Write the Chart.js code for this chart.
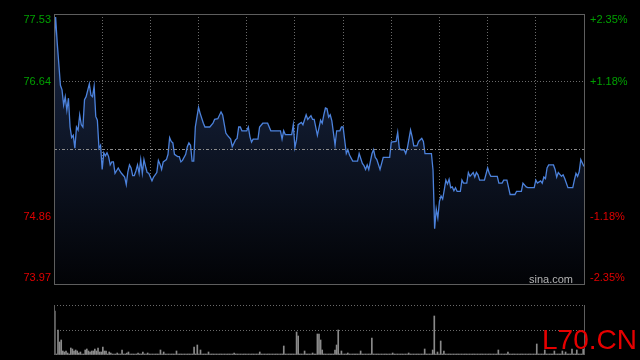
<!DOCTYPE html>
<html>
<head>
<meta charset="utf-8">
<script src="https://cdn.jsdelivr.net/npm/chart.js@4/dist/chart.umd.min.js"></script>
<style>
    html, body { margin: 0; padding: 0; background: #000; overflow: hidden; }
    #wrap { position: relative; width: 640px; height: 360px; }
    #priceChart { position: absolute; left: 0; top: 0; }
    #volChart { position: absolute; left: 0; top: 290px; }
    #mark { position: absolute; left: 542px; top: 326px; font: 28px "Liberation Sans", Arial, sans-serif; line-height: 28px; color: #e60000; }
</style>
</head>
<body>
<div id="wrap">
    <canvas id="priceChart" width="640" height="290"></canvas>
    <canvas id="volChart" width="640" height="70"></canvas>
    <div id="mark">L70.CN</div>
</div>
<script>
// --- Data (minutes since 9:30 open, HK session 330 min) ---
const prevClose = 75.75;
const priceTicks = [77.53, 76.64, 74.86, 73.97];
const pctLabels = ['+2.35%', '+1.18%', '-1.18%', '-2.35%'];
const gridMinutes = [0, 30, 60, 90, 120, 150, 180, 210, 240, 270, 300, 330];

const priceMinutes = [
    0, 1, 2, 4, 5, 6, 7, 8, 9, 10, 11, 12, 13, 14, 15, 16, 17, 18, 19, 20,
    22, 23, 24, 25, 26, 27, 28, 29, 30, 31, 32, 33, 34, 35, 36, 37, 38, 40, 41, 42,
    44, 45, 46, 47, 48, 49, 50, 51, 52, 53, 54, 55, 56, 57, 58, 59, 61, 62, 64, 65,
    66, 67, 68, 70, 71, 72, 73, 74, 75, 77, 78, 79, 80, 82, 83, 84, 85, 86, 87, 88,
    90, 91, 93, 94, 97, 99, 100, 102, 104, 105, 107, 108, 110, 111, 113, 114, 115, 116, 117, 120,
    121, 122, 123, 124, 127, 128, 130, 133, 135, 141, 142, 143, 144, 148, 149, 150, 151, 152, 154, 155,
    157, 158, 160, 161, 162, 164, 166, 167, 168, 169, 170, 171, 172, 173, 175, 176, 178, 179, 180, 182,
    183, 184, 186, 189, 190, 192, 193, 194, 195, 196, 198, 199, 200, 201, 203, 205, 209, 210, 213, 214,
    215, 216, 218, 219, 220, 222, 223, 224, 226, 227, 229, 230, 231, 235, 236, 237, 238, 239, 240, 241,
    242, 243, 244, 245, 246, 247, 248, 249, 250, 251, 253, 254, 255, 257, 258, 259, 261, 262, 263, 264,
    265, 268, 270, 271, 272, 276, 277, 279, 280, 282, 284, 287, 288, 291, 292, 294, 295, 299, 300, 301,
    303, 304, 305, 306, 307, 308, 311, 312, 313, 314, 316, 317, 318, 320, 323, 324, 325, 326, 327, 328,
    330
];
const priceValues = [
    77.14, 77.49, 77.15, 76.59, 76.53, 76.33, 76.44, 76.26, 76.42, 76.04, 75.90, 75.93, 75.76, 76.04, 76.00, 76.20, 76.07, 76.04, 76.40, 76.44,
    76.61, 76.46, 76.44, 76.58, 76.18, 76.13, 75.76, 75.80, 75.48, 75.70, 75.66, 75.70, 75.65, 75.54, 75.58, 75.58, 75.43, 75.50, 75.46, 75.43,
    75.38, 75.28, 75.45, 75.54, 75.50, 75.40, 75.40, 75.46, 75.54, 75.43, 75.61, 75.43, 75.61, 75.52, 75.44, 75.43, 75.33, 75.38, 75.44, 75.60,
    75.55, 75.48, 75.58, 75.61, 75.68, 75.90, 75.85, 75.83, 75.68, 75.65, 75.65, 75.58, 75.60, 75.68, 75.78, 75.83, 75.80, 75.59, 75.59, 76.04,
    76.30, 76.22, 76.09, 76.04, 76.04, 76.09, 76.14, 76.15, 76.24, 76.20, 75.96, 75.93, 75.88, 75.78, 75.87, 75.89, 76.04, 76.04, 75.99, 75.99,
    76.04, 75.91, 75.84, 75.88, 75.88, 76.04, 76.09, 76.09, 75.99, 75.99, 75.88, 75.99, 75.94, 75.94, 76.07, 75.77, 75.87, 76.07, 76.10, 76.07,
    76.20, 76.14, 76.19, 76.14, 76.14, 75.93, 76.13, 76.09, 76.20, 76.29, 76.28, 76.17, 76.20, 76.12, 75.80, 75.99, 75.99, 76.04, 76.04, 75.69,
    75.74, 75.67, 75.59, 75.59, 75.69, 75.56, 75.53, 75.48, 75.54, 75.48, 75.69, 75.74, 75.64, 75.61, 75.48, 75.64, 75.64, 75.84, 75.85, 75.97,
    75.76, 75.74, 75.74, 75.69, 75.76, 76.00, 75.91, 75.79, 75.79, 75.85, 75.89, 75.85, 75.69, 75.69, 75.47, 74.70, 74.96, 74.84, 75.06, 75.13,
    75.09, 75.21, 75.34, 75.29, 75.35, 75.24, 75.25, 75.20, 75.24, 75.19, 75.19, 75.34, 75.30, 75.30, 75.44, 75.39, 75.44, 75.38, 75.44, 75.41,
    75.34, 75.34, 75.50, 75.43, 75.39, 75.39, 75.30, 75.30, 75.34, 75.34, 75.15, 75.15, 75.19, 75.19, 75.30, 75.25, 75.24, 75.24, 75.34, 75.30,
    75.33, 75.30, 75.38, 75.36, 75.50, 75.54, 75.54, 75.48, 75.38, 75.44, 75.39, 75.41, 75.36, 75.24, 75.24, 75.34, 75.43, 75.39, 75.45, 75.61,
    75.52
];

// volume per minute (relative units, panel max = 50)
const volumes = [
    44, 1, 25, 13, 15, 4, 3, 4, 2, 1, 7, 6, 4, 5, 4, 2, 3, 1, 1, 5, 6, 4, 3, 4, 4, 6, 4, 7, 3, 3,
    8, 4, 4, 1, 3, 2, 1, 1, 1, 2, 1, 1, 5, 1, 1, 2, 3, 1, 1, 1, 1, 1, 2, 1, 1, 3, 1, 1, 2, 1,
    1, 1, 1, 1, 1, 1, 5, 1, 3, 1, 1, 1, 1, 1, 1, 1, 4, 1, 1, 1, 1, 1, 1, 1, 1, 1, 1, 8, 1, 10,
    1, 5, 1, 1, 1, 1, 3, 1, 1, 1, 1, 1, 1, 1, 1, 1, 1, 1, 1, 1, 1, 1, 2, 1, 1, 1, 1, 1, 1, 1,
    1, 1, 1, 1, 1, 1, 1, 1, 3, 1, 1, 1, 1, 1, 1, 1, 1, 1, 1, 1, 1, 1, 1, 9, 1, 1, 1, 1, 1, 1,
    1, 23, 19, 1, 1, 1, 4, 1, 1, 1, 1, 2, 1, 1, 21, 21, 15, 5, 1, 1, 1, 1, 1, 1, 1, 5, 10, 25, 1, 4,
    1, 1, 1, 2, 1, 1, 1, 1, 1, 1, 1, 4, 1, 1, 1, 1, 1, 1, 17, 1, 1, 1, 1, 1, 1, 1, 1, 1, 1, 1,
    1, 2, 1, 1, 1, 1, 1, 1, 1, 1, 1, 2, 1, 1, 1, 1, 1, 1, 1, 1, 1, 6, 1, 1, 1, 1, 5, 39, 1, 3,
    1, 14, 1, 4, 1, 1, 1, 1, 1, 1, 1, 1, 1, 1, 1, 1, 1, 1, 1, 1, 1, 1, 1, 1, 1, 1, 1, 1, 1, 1,
    1, 1, 1, 1, 1, 1, 1, 5, 1, 1, 1, 1, 1, 3, 1, 1, 1, 1, 1, 1, 1, 1, 1, 1, 1, 1, 1, 1, 1, 1,
    1, 11, 1, 1, 1, 1, 5, 1, 1, 1, 1, 1, 4, 1, 1, 1, 1, 4, 1, 3, 1, 1, 1, 6, 1, 1, 5, 1, 1, 1,
    6
];

// --- Styles ---
const GRID = '#6a6a6a';
const FRAME = '#5e5e5e';
const UP = '#00a000';
const DOWN = '#e00000';
const LABEL_FONT = '11px "Liberation Sans", Arial, sans-serif';

// labels + frame + previous close line for the price panel
const pricePanelPlugin = {
    id: 'pricePanel',
    afterDatasetsDraw(chart) {
        const { ctx, chartArea } = chart;
        const y = Math.round(chart.scales.y.getPixelForValue(prevClose)) + 0.5;
        ctx.save();
        ctx.strokeStyle = '#8c8c8c';
        ctx.lineWidth = 1;
        ctx.setLineDash([3, 2, 1, 2]);
        ctx.beginPath();
        ctx.moveTo(chartArea.left, y);
        ctx.lineTo(chartArea.right, y);
        ctx.stroke();
        ctx.restore();
    },
    afterDraw(chart) {
        const { ctx, chartArea } = chart;
        const yScale = chart.scales.y;
        ctx.save();
        ctx.strokeStyle = FRAME;
        ctx.lineWidth = 1;
        ctx.strokeRect(chartArea.left + 0.5, chartArea.top + 0.5,
            chartArea.right - chartArea.left, chartArea.bottom - chartArea.top);

        ctx.font = LABEL_FONT;
        ctx.textBaseline = 'middle';
        priceTicks.forEach((v, i) => {
            let y = yScale.getPixelForValue(v);
            y = Math.min(Math.max(y, chartArea.top + 6), chartArea.bottom - 6);
            ctx.fillStyle = v > prevClose ? UP : DOWN;
            ctx.textAlign = 'right';
            ctx.fillText(v.toFixed(2), chartArea.left - 3, y);
            ctx.textAlign = 'left';
            ctx.fillText(pctLabels[i], chartArea.right + 6, y);
        });

        ctx.fillStyle = '#b4b4b4';
        ctx.textAlign = 'right';
        ctx.textBaseline = 'alphabetic';
        ctx.fillText('sina.com', chartArea.right - 11, chartArea.bottom - 1);
        ctx.restore();
    }
};

const volFramePlugin = {
    id: 'volFrame',
    afterDraw(chart) {
        const { ctx, chartArea } = chart;
        ctx.save();
        ctx.strokeStyle = FRAME;
        ctx.lineWidth = 1;
        ctx.beginPath();
        ctx.moveTo(chartArea.left + 0.5, chartArea.top);
        ctx.lineTo(chartArea.left + 0.5, chartArea.bottom);
        ctx.moveTo(chartArea.right + 0.5, chartArea.top);
        ctx.lineTo(chartArea.right + 0.5, chartArea.bottom);
        ctx.stroke();
        ctx.restore();
    }
};

function fillGradient(context) {
    const { chart } = context;
    const area = chart.chartArea;
    if (!area) return 'rgba(0,0,0,0)';
    const g = chart.ctx.createLinearGradient(0, area.top, 0, area.bottom);
    g.addColorStop(0, 'rgb(26,40,70)');
    g.addColorStop(1, 'rgb(2,3,6)');
    return g;
}

new Chart(document.getElementById('priceChart'), {
    type: 'line',
    data: {
        datasets: [{
            data: priceMinutes.map((m, i) => ({ x: m, y: priceValues[i] })),
            borderColor: '#4c82dc',
            borderWidth: 1.3,
            pointRadius: 0,
            tension: 0,
            fill: 'start',
            backgroundColor: fillGradient
        }]
    },
    options: {
        responsive: false,
        animation: false,
        devicePixelRatio: 1,
        layout: { padding: { left: 54, right: 56, top: 14, bottom: 6 } },
        plugins: { legend: { display: false }, tooltip: { enabled: false } },
        scales: {
            x: {
                type: 'linear', min: 0, max: 330, z: 1,
                afterBuildTicks: axis => { axis.ticks = gridMinutes.map(v => ({ value: v })); },
                ticks: { display: false },
                grid: { color: GRID, drawTicks: false },
                border: { display: false, dash: [1, 2] }
            },
            y: {
                min: 73.97, max: 77.53, z: 1,
                afterBuildTicks: axis => {
                    axis.ticks = [73.97, 74.86, prevClose, 76.64, 77.53].map(v => ({ value: v }));
                },
                ticks: { display: false },
                grid: {
                    color: ctx => (ctx.tick && ctx.tick.value === prevClose) ? 'rgba(0,0,0,0)' : GRID,
                    drawTicks: false
                },
                border: { display: false, dash: [1, 2] }
            }
        }
    },
    plugins: [pricePanelPlugin]
});

new Chart(document.getElementById('volChart'), {
    type: 'bar',
    data: {
        datasets: [{
            data: volumes.map((v, i) => ({ x: i, y: v })),
            backgroundColor: '#8a8a8a',
            barThickness: 1
        }]
    },
    options: {
        responsive: false,
        animation: false,
        devicePixelRatio: 1,
        layout: { padding: { left: 54, right: 56, top: 15, bottom: 5 } },
        plugins: { legend: { display: false }, tooltip: { enabled: false } },
        scales: {
            x: { type: 'linear', min: -0.5, max: 330.5, offset: false, display: false },
            y: {
                min: 0, max: 50,
                afterBuildTicks: axis => { axis.ticks = [0, 25, 50].map(v => ({ value: v })); },
                ticks: { display: false },
                grid: {
                    color: ctx => (ctx.tick && ctx.tick.value === 0) ? 'rgba(0,0,0,0)' : GRID,
                    drawTicks: false
                },
                border: { display: false, dash: [1, 2] }
            }
        }
    },
    plugins: [volFramePlugin]
});
</script>
</body>
</html>
